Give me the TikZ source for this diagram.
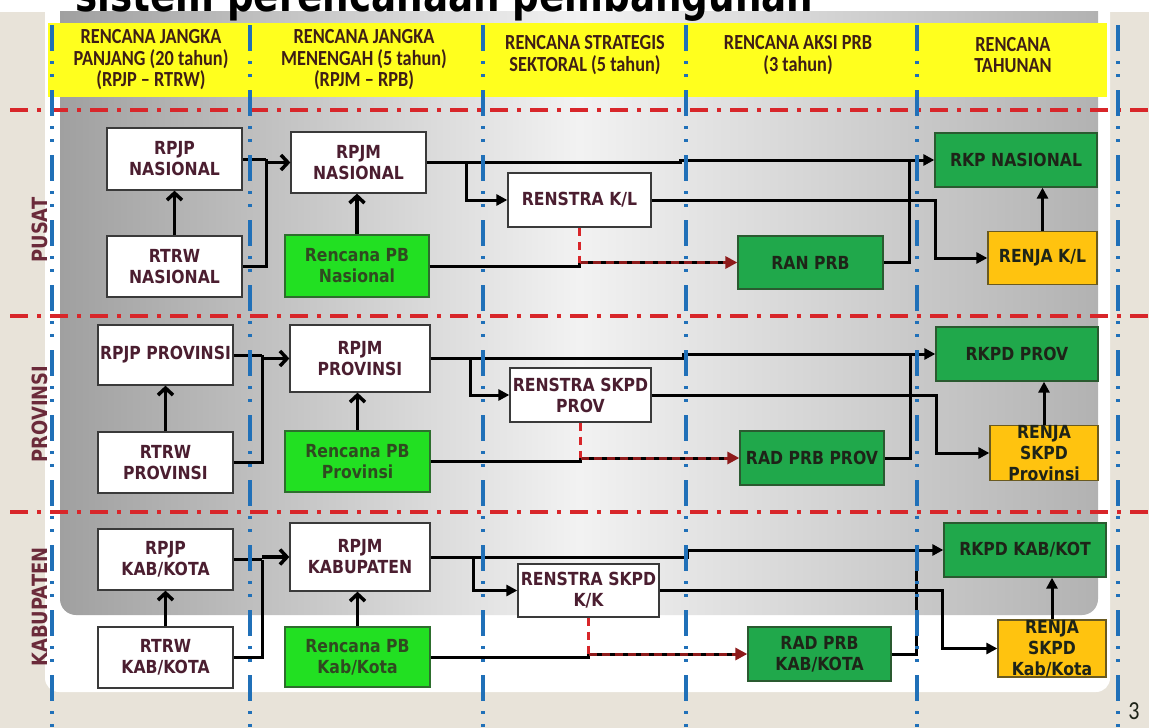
\documentclass[tikz,border=0pt]{standalone}
\usepackage{fontspec}
\usetikzlibrary{arrows.meta,calc}
\setmainfont{DejaVu Sans}
\newfontfamily\boxfont[FakeStretch=0.87]{DejaVu Sans}
\newfontfamily\rowfont[FakeStretch=0.85]{DejaVu Sans}
\newfontfamily\headfont[FakeStretch=0.85]{Carlito}
\newfontfamily\titlefont[FakeStretch=0.81]{DejaVu Sans}
\definecolor{beige}{HTML}{E8E3D9}
\definecolor{yel}{HTML}{FFFF1E}
\definecolor{bl}{HTML}{2070B8}
\definecolor{rd}{HTML}{D8262A}
\definecolor{dred}{HTML}{8E1B1B}
\definecolor{maroontxt}{HTML}{4B1E30}
\definecolor{headtxt}{HTML}{3E1E16}
\definecolor{rowtxt}{HTML}{6B2A3A}
\definecolor{bgreen}{HTML}{22E022}
\definecolor{bgreenb}{HTML}{2D6E2D}
\definecolor{gtxt}{HTML}{2F4A20}
\definecolor{dgreen}{HTML}{20A84B}
\definecolor{dgreenb}{HTML}{2A5A30}
\definecolor{orng}{HTML}{FFC30F}
\definecolor{orngb}{HTML}{6A5A20}
\definecolor{darktxt}{HTML}{1E2418}
\definecolor{boxb}{HTML}{3A3A3A}
\definecolor{gA}{HTML}{A0A0A0}
\definecolor{gB}{HTML}{F2F2F2}
\definecolor{gC}{HTML}{B2B2B2}
\tikzset{
  box/.style={draw=boxb, line width=1.3pt, align=center, inner sep=0pt,
    font=\boxfont\bfseries\fontsize{18}{21}\selectfont},
  wbox/.style={box, fill=white, text=maroontxt},
  gbox/.style={box, fill=bgreen, draw=bgreenb, text=gtxt},
  dbox/.style={box, fill=dgreen, draw=dgreenb, text=darktxt},
  ybox/.style={box, fill=orng, draw=orngb, text=darktxt},
  head/.style={align=center, text=headtxt, font=\headfont\bfseries\fontsize{21.5}{21.5}\selectfont},
  rowlabel/.style={text=rowtxt, rotate=90, font=\rowfont\bfseries\fontsize{21}{21}\selectfont},
  conn/.style={draw=black, line width=3pt},
  tri/.style={-{Triangle[length=11pt,width=11pt]}},
  chev/.style={line width=3.5pt, -{Straight Barb[length=7pt,width=15pt]}},
  blueline/.style={draw=bl, line width=3.5pt, dash pattern=on 26pt off 10pt on 3pt off 10pt on 3pt off 13pt},
  redline/.style={draw=rd, line width=3.5pt, dash pattern=on 18pt off 9pt on 4pt off 9pt},
  redarrow/.style={draw=dred, line width=3pt, dash pattern=on 8pt off 5pt, -{Triangle[length=12pt,width=12pt]}},
  reddash/.style={draw=rd, line width=2.5pt, dash pattern=on 8pt off 6pt},
}
\begin{document}
\begin{tikzpicture}[x=1pt,y=-1pt]
\useasboundingbox (0,0) rectangle (1149,728);
\clip (0,0) rectangle (1149,728);
% background
\fill[beige] (0,0) rectangle (1149,728);
\fill[white] (0,0) rectangle (1149,12);
\fill[white, rounded corners=14pt] (45,-30) -- (45,692) -- (1110,692) -- (1110,-30) -- cycle;
\shade[left color=gA, right color=gC, middle color=gB, rounded corners=16pt] (60,-30) -- (60,615) -- (1098,615) -- (1098,-30) -- cycle;
\fill[white] (45,0) rectangle (1110,11);
% title (clipped at the top edge, as in the reference)
\node[anchor=base west, inner sep=0pt, font=\titlefont\bfseries\fontsize{46}{46}\selectfont] (title) at (75,12) {sistem perencanaan pembangunan};
% header band
\fill[yel] (48,23) rectangle (1107,97);
\node[head] (h1) at (151,60) {RENCANA JANGKA\\PANJANG (20 tahun)\\(RPJP – RTRW)};
\node[head] (h2) at (364,60) {RENCANA JANGKA\\MENENGAH (5 tahun)\\(RPJM – RPB)};
\node[head] (h3) at (585,55) {RENCANA STRATEGIS\\SEKTORAL (5 tahun)};
\node[head] (h4) at (798,55) {RENCANA AKSI PRB\\(3 tahun)};
\node[head] (h5) at (1013,55) {RENCANA\\TAHUNAN};
% row labels
\node[rowlabel] (lp) at (40,230) {PUSAT};
\node[rowlabel] (lv) at (40,414) {PROVINSI};
\node[rowlabel] (lk) at (40,607) {KABUPATEN};
\node[font=\headfont\fontsize{26}{26}\selectfont, text=darktxt] (pg) at (1134,711) {3};

% ================= nodes PUSAT
\node[wbox, minimum width=135pt, minimum height=62pt] (rpjpN) at (174.5,159) {RPJP\\NASIONAL};
\node[wbox, minimum width=135pt, minimum height=61pt] (rtrwN) at (174.5,266.5) {RTRW\\NASIONAL};
\node[wbox, minimum width=135pt, minimum height=61pt] (rpjmN) at (358.5,162.5) {RPJM\\NASIONAL};
\node[gbox, minimum width=144pt, minimum height=62pt] (pbN) at (357,266) {Rencana PB\\Nasional};
\node[wbox, minimum width=143pt, minimum height=54pt] (renstraN) at (579.5,200) {RENSTRA K/L};
\node[dbox, minimum width=145pt, minimum height=53pt] (ranN) at (810.5,262.5) {RAN PRB};
\node[dbox, minimum width=162pt, minimum height=54pt] (rkpN) at (1016,160) {RKP NASIONAL};
\node[ybox, minimum width=109pt, minimum height=53pt] (renjaN) at (1042.5,258) {RENJA K/L};
% ================= nodes PROVINSI
\node[wbox, minimum width=135pt, minimum height=60pt] (rpjpP) at (165.5,355) {RPJP PROVINSI};
\node[wbox, minimum width=135pt, minimum height=61pt] (rtrwP) at (165.5,462.5) {RTRW\\PROVINSI};
\node[wbox, minimum width=140pt, minimum height=67pt] (rpjmP) at (360,358.5) {RPJM\\PROVINSI};
\node[gbox, minimum width=145pt, minimum height=61pt] (pbP) at (357.5,461.5) {Rencana PB\\Provinsi};
\node[wbox, minimum width=141pt, minimum height=54pt] (renstraP) at (580.5,395) {RENSTRA SKPD\\PROV};
\node[dbox, minimum width=144pt, minimum height=54pt] (radP) at (812,458) {RAD PRB PROV};
\node[dbox, minimum width=162pt, minimum height=54pt] (rkpdP) at (1017,354) {RKPD PROV};
\node[ybox, minimum width=108pt, minimum height=54pt] (renjaP) at (1044,453) {RENJA\\SKPD\\Provinsi};
% ================= nodes KABUPATEN
\node[wbox, minimum width=135pt, minimum height=61pt] (rpjpK) at (165.5,559.5) {RPJP\\KAB/KOTA};
\node[wbox, minimum width=135pt, minimum height=61pt] (rtrwK) at (165.5,657.5) {RTRW\\KAB/KOTA};
\node[wbox, minimum width=140pt, minimum height=68pt] (rpjmK) at (360,557) {RPJM\\KABUPATEN};
\node[gbox, minimum width=145pt, minimum height=60pt] (pbK) at (357.5,657) {Rencana PB\\Kab/Kota};
\node[wbox, minimum width=141pt, minimum height=53pt] (renstraK) at (588.5,590.5) {RENSTRA SKPD\\K/K};
\node[dbox, minimum width=143pt, minimum height=54pt] (radK) at (819.5,654) {RAD PRB\\KAB/KOTA};
\node[dbox, minimum width=162pt, minimum height=54pt] (rkpdK) at (1025,550) {RKPD KAB/KOT};
\node[ybox, minimum width=108pt, minimum height=53pt] (renjaK) at (1052,648.5) {RENJA\\SKPD\\Kab/Kota};

% ================= connectors
% --- PUSAT
\coordinate (jN) at (266,159);
\coordinate (bN) at (466,0);
\coordinate (sN) at (680,0);
\coordinate (cN) at (935,0);
\coordinate (dN) at (909,0);
\draw[conn, chev] (rtrwN.north) -- (rpjpN.south);
\draw[conn, chev] (pbN.north) -- (pbN.north |- rpjmN.south);
\draw[conn] (rpjpN.east) -- (jN);
\draw[conn] (rtrwN.east) -| (jN);
\draw[conn, chev] (jN |- rpjmN.west) -- (rpjmN.west);
\draw[conn, tri] (rpjmN.east) -- (sN |- rpjmN.east) -- (sN |- rkpN.west) -- (rkpN.west);
\draw[conn, tri] (bN |- rpjmN.east) -- (bN |- renstraN.west) -- (renstraN.west);
\draw[conn, tri] (renstraN.east) -- (cN |- renstraN.east) -- (cN |- renjaN.west) -- (renjaN.west);
\draw[conn] (ranN.east) -- (dN |- ranN.east) -- (dN |- rkpN.west);
\draw[conn] (pbN.east) -- (renstraN.south |- pbN.east) -- (renstraN.south |- ranN.west);
\draw[conn, shorten >=10pt] (renstraN.south |- ranN.west) -- (ranN.west);
\draw[redarrow] (renstraN.south |- ranN.west) -- (ranN.west);
\draw[reddash] (renstraN.south) -- (renstraN.south |- ranN.west);
\draw[conn, tri] (renjaN.north) -- (renjaN.north |- rkpN.south);
% --- PROVINSI
\coordinate (jP) at (262,355);
\coordinate (bP) at (470,0);
\coordinate (sP) at (683,0);
\coordinate (cP) at (936,0);
\coordinate (dP) at (910,0);
\draw[conn, chev] (rtrwP.north) -- (rpjpP.south);
\draw[conn, chev] (pbP.north) -- (pbP.north |- rpjmP.south);
\draw[conn] (rpjpP.east) -- (jP);
\draw[conn] (rtrwP.east) -| (jP);
\draw[conn, chev] (jP |- rpjmP.west) -- (rpjmP.west);
\draw[conn, tri] (rpjmP.east) -- (sP |- rpjmP.east) -- (sP |- rkpdP.west) -- (rkpdP.west);
\draw[conn, tri] (bP |- rpjmP.east) -- (bP |- renstraP.west) -- (renstraP.west);
\draw[conn, tri] (renstraP.east) -- (cP |- renstraP.east) -- (cP |- renjaP.west) -- (renjaP.west);
\draw[conn] (radP.east) -- (dP |- radP.east) -- (dP |- rkpdP.west);
\draw[conn] (pbP.east) -- (renstraP.south |- pbP.east) -- (renstraP.south |- radP.west);
\draw[conn, shorten >=10pt] (renstraP.south |- radP.west) -- (radP.west);
\draw[redarrow] (renstraP.south |- radP.west) -- (radP.west);
\draw[reddash] (renstraP.south) -- (renstraP.south |- radP.west);
\draw[conn, tri] (renjaP.north) -- (renjaP.north |- rkpdP.south);
% --- KABUPATEN
\coordinate (jK) at (262,559.5);
\coordinate (bK) at (473,0);
\coordinate (sK) at (687,0);
\coordinate (cK) at (942,0);
\coordinate (dK) at (916,0);
\draw[conn, chev] (rtrwK.north) -- (rpjpK.south);
\draw[conn, chev] (pbK.north) -- (pbK.north |- rpjmK.south);
\draw[conn] (rpjpK.east) -- (jK);
\draw[conn] (rtrwK.east) -| (jK);
\draw[conn, chev] (jK |- rpjmK.west) -- (rpjmK.west);
\draw[conn, tri] (rpjmK.east) -- (sK |- rpjmK.east) -- (sK |- rkpdK.west) -- (rkpdK.west);
\draw[conn, tri] (bK |- rpjmK.east) -- (bK |- renstraK.west) -- (renstraK.west);
\draw[conn, tri] (renstraK.east) -- (cK |- renstraK.east) -- (cK |- renjaK.west) -- (renjaK.west);
\draw[conn] (radK.east) -- (dK |- radK.east) -- (dK |- rkpdK.west);
\draw[conn] (pbK.east) -- (renstraK.south |- pbK.east) -- (renstraK.south |- radK.west);
\draw[conn, shorten >=10pt] (renstraK.south |- radK.west) -- (radK.west);
\draw[redarrow] (renstraK.south |- radK.west) -- (radK.west);
\draw[reddash] (renstraK.south) -- (renstraK.south |- radK.west);
\draw[conn, tri] (renjaK.north) -- (renjaK.north |- rkpdK.south);

% grid lines
\foreach \yy in {110,316,512} \draw[redline] (10,\yy) -- (1149,\yy);
\foreach \xx in {52,250,483,686,917,1118} \draw[blueline] (\xx,25) -- (\xx,728);
\end{tikzpicture}
\end{document}
